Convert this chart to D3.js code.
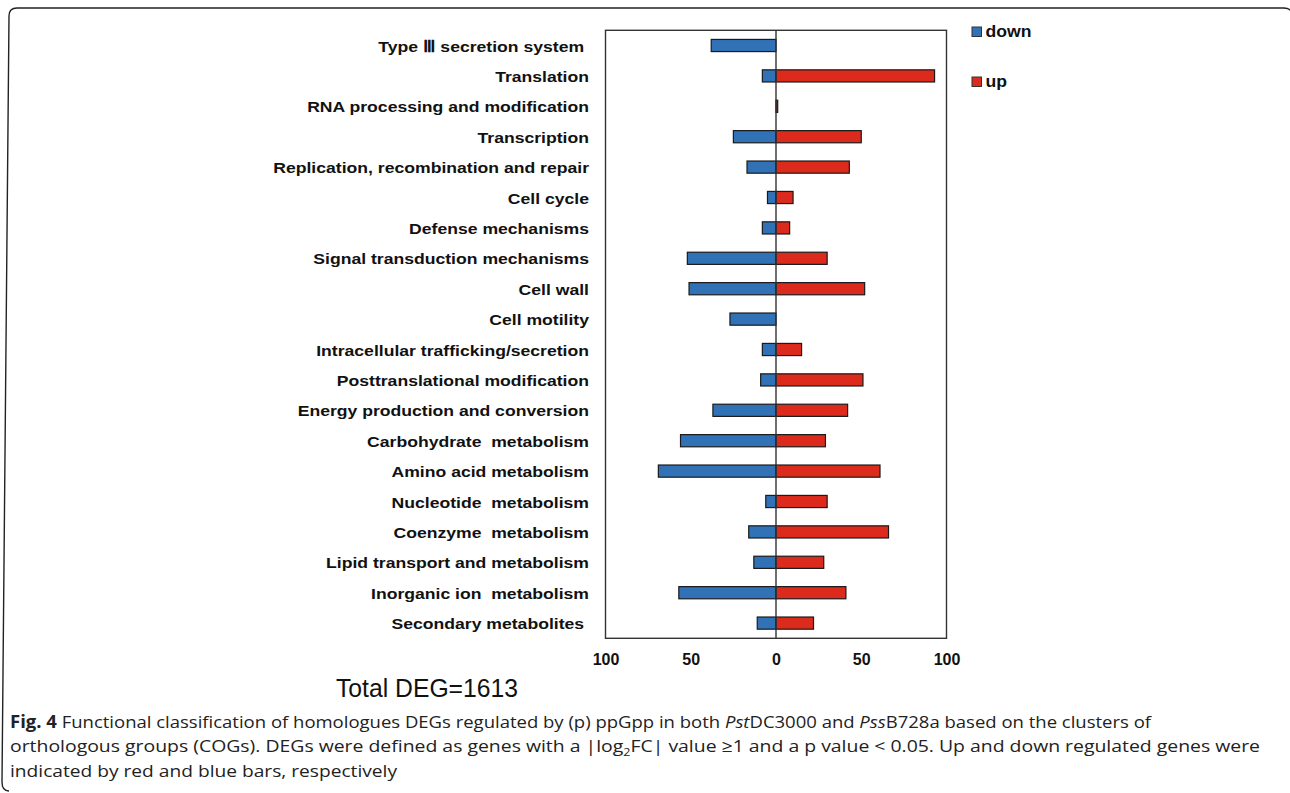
<!DOCTYPE html>
<html>
<head>
<meta charset="utf-8">
<script src="https://cdn.jsdelivr.net/npm/d3@7"></script>
<style>
  body { margin: 0; background: #fff; }
  svg { display: block; }
  .lbl { font-family: Arial, "Liberation Sans", sans-serif; font-weight: bold; font-size: 15.5px; fill: #111; white-space: pre; }
  .tick text { font-family: Arial, "Liberation Sans", sans-serif; font-weight: bold; font-size: 16px; fill: #111; }
  .caption { font-family: "Open Sans", sans-serif; font-size: 17px; fill: #222; }
</style>
</head>
<body>
<svg id="chart" width="1290" height="793"></svg>
<script>
// COG categories, top to bottom
const categories = [
  'Type \u2162 secretion system ',
  'Translation',
  'RNA processing and modification',
  'Transcription',
  'Replication, recombination and repair',
  'Cell cycle',
  'Defense mechanisms',
  'Signal transduction mechanisms',
  'Cell wall',
  'Cell motility',
  'Intracellular trafficking/secretion',
  'Posttranslational modification',
  'Energy production and conversion',
  'Carbohydrate  metabolism',
  'Amino acid metabolism',
  'Nucleotide  metabolism',
  'Coenzyme  metabolism',
  'Lipid transport and metabolism',
  'Inorganic ion  metabolism',
  'Secondary metabolites '
];
const downValues = [38, 8, 0, 25, 17, 5, 8, 52, 51, 27, 8, 9, 37, 56, 69, 6, 16, 13, 57, 11];
const upValues = [0, 93, 1, 50, 43, 10, 8, 30, 52, 0, 15, 51, 42, 29, 61, 30, 66, 28, 41, 22];
const tickValues = [-100, -50, 0, 50, 100];
const legendItems = ['down', 'up'];

const colors = { down: '#3172b6', up: '#dc2a1c' };

const data = categories.map((c, i) => ({ cat: c, down: downValues[i], up: upValues[i] }));

const svg = d3.select('#chart');

// outer rounded frame of the figure panel
svg
  .append('path')
  .attr('d', 'M1293,16 Q1292,8 1284,8 L17,8 Q9,8 9,16 L2,782 Q2,791 9,791')
  .attr('fill', 'none')
  .attr('stroke', '#222')
  .attr('stroke-width', 1.4);

const plot = { left: 605.5, right: 946.5, top: 30.3, bottom: 638.3 };

const xScale = d3
  .scaleLinear()
  .domain([-100, 100])
  .range([plot.left, plot.right]);

const yScale = d3
  .scaleBand()
  .domain(categories)
  .range([plot.top, plot.bottom])
  .paddingInner(0.6)
  .paddingOuter(0.3);

// plot frame
svg
  .append('rect')
  .attr('x', plot.left)
  .attr('y', plot.top)
  .attr('width', plot.right - plot.left)
  .attr('height', plot.bottom - plot.top)
  .attr('fill', 'none')
  .attr('stroke', '#333')
  .attr('stroke-width', 1.4);

// bars
const rows = svg
  .selectAll('.row')
  .data(data)
  .enter()
  .append('g')
  .attr('class', 'row');

rows
  .filter(d => d.down > 0)
  .append('rect')
  .attr('x', d => xScale(-d.down))
  .attr('y', d => yScale(d.cat))
  .attr('width', d => xScale(0) - xScale(-d.down))
  .attr('height', yScale.bandwidth())
  .attr('fill', colors.down)
  .attr('stroke', '#1a1a1a')
  .attr('stroke-width', 1.2);

rows
  .filter(d => d.up > 0)
  .append('rect')
  .attr('x', xScale(0))
  .attr('y', d => yScale(d.cat))
  .attr('width', d => xScale(d.up) - xScale(0))
  .attr('height', yScale.bandwidth())
  .attr('fill', colors.up)
  .attr('stroke', '#1a1a1a')
  .attr('stroke-width', 1.2);

// zero line
svg
  .append('line')
  .attr('x1', xScale(0))
  .attr('x2', xScale(0))
  .attr('y1', plot.top)
  .attr('y2', plot.bottom)
  .attr('stroke', '#333')
  .attr('stroke-width', 1.4);

// the source labels are a bit wider than plain Arial, stretch them
function stretch(sel, k) {
  sel.each(function() {
    const w = this.getComputedTextLength();
    d3.select(this)
      .attr('textLength', w * k)
      .attr('lengthAdjust', 'spacingAndGlyphs');
  });
}

// category labels
svg
  .selectAll('.cat-lbl')
  .data(categories)
  .enter()
  .append('text')
  .attr('class', 'lbl cat-lbl')
  .attr('x', 589)
  .attr('y', d => yScale(d) + yScale.bandwidth() / 2 + 6)
  .attr('text-anchor', 'end')
  .text(d => d)
  .call(stretch, 1.135);

// x axis, absolute values on both sides
svg
  .append('g')
  .attr('class', 'x-axis')
  .attr('transform', 'translate(0,' + plot.bottom + ')')
  .call(
    d3
      .axisBottom(xScale)
      .tickValues(tickValues)
      .tickSize(0)
      .tickPadding(15)
      .tickFormat(t => Math.abs(t))
  )
  .call(g => g.select('.domain').remove());

// legend
const legend = svg
  .selectAll('.legend')
  .data(legendItems)
  .enter()
  .append('g')
  .attr('class', 'legend')
  .attr('transform', (d, i) => 'translate(972,' + (27 + i * 50) + ')');

legend
  .append('rect')
  .attr('width', 9.5)
  .attr('height', 9.5)
  .attr('fill', d => colors[d])
  .attr('stroke', '#333')
  .attr('stroke-width', 1);

legend
  .append('text')
  .attr('class', 'lbl')
  .attr('x', 13.5)
  .attr('y', 10)
  .style('font-size', '16px')
  .text(d => d)
  .call(stretch, 1.1);

// total count
svg
  .append('text')
  .attr('x', 336)
  .attr('y', 697)
  .attr('textLength', 182)
  .attr('lengthAdjust', 'spacingAndGlyphs')
  .style('font-family', 'Arial, "Liberation Sans", sans-serif')
  .style('font-size', '25px')
  .style('fill', '#111')
  .text('Total DEG=1613');

// figure caption
const cap1 = svg
  .append('text')
  .attr('class', 'caption')
  .attr('x', 10)
  .attr('y', 728)
  .attr('textLength', 1141)
  .attr('lengthAdjust', 'spacingAndGlyphs');
cap1.append('tspan').style('font-weight', 'bold').text('Fig. 4');
cap1.append('tspan').text(' Functional classification of homologues DEGs regulated by (p) ppGpp in both ');
cap1.append('tspan').style('font-style', 'italic').text('Pst');
cap1.append('tspan').text('DC3000 and ');
cap1.append('tspan').style('font-style', 'italic').text('Pss');
cap1.append('tspan').text('B728a based on the clusters of');

const cap2 = svg
  .append('text')
  .attr('class', 'caption')
  .attr('x', 10)
  .attr('y', 752)
  .attr('textLength', 1250)
  .attr('lengthAdjust', 'spacingAndGlyphs');
cap2.append('tspan').text('orthologous groups (COGs). DEGs were defined as genes with a |log');
cap2.append('tspan').attr('dy', 4).style('font-size', '11px').text('2');
cap2.append('tspan').attr('dy', -4).text('FC| value \u22651 and a p value < 0.05. Up and down regulated genes were');

svg
  .append('text')
  .attr('class', 'caption')
  .attr('x', 10)
  .attr('y', 777)
  .attr('textLength', 387)
  .attr('lengthAdjust', 'spacingAndGlyphs')
  .text('indicated by red and blue bars, respectively');
</script>
</body>
</html>
